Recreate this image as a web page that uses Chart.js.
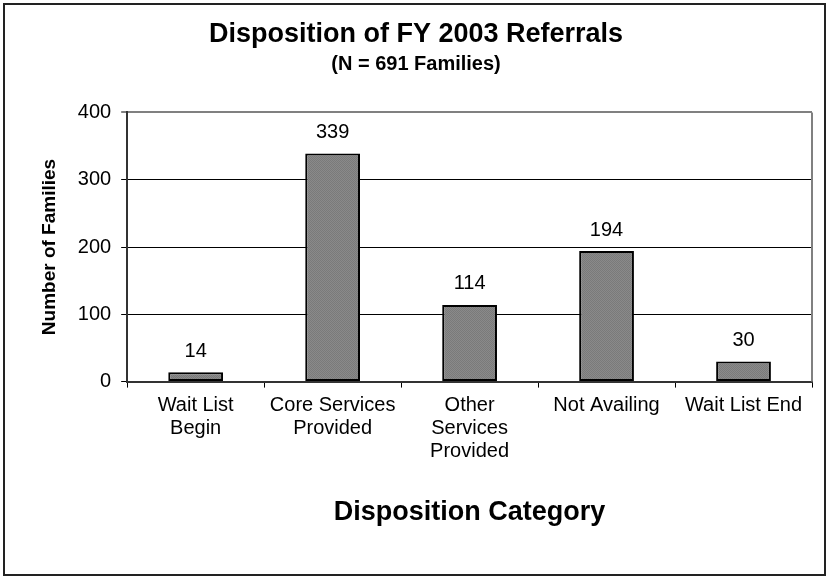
<!DOCTYPE html>
<html>
<head>
<meta charset="utf-8">
<script src="https://cdn.jsdelivr.net/npm/chart.js@4"></script>
<style>
html,body{margin:0;padding:0;background:#fff;}
canvas{display:block;}
</style>
</head>
<body>
<canvas id="c" width="826" height="576"></canvas>
<script>
const categories = [["Wait List","Begin"],["Core Services","Provided"],["Other","Services","Provided"],["Not Availing"],["Wait List End"]];
const families = [14, 339, 114, 194, 30];
const yTicks = [0, 100, 200, 300, 400];
const titleText = "Disposition of FY 2003 Referrals";
const subtitleText = "(N = 691 Families)";
const xTitle = "Disposition Category";
const yTitle = "Number of Families";

const FONT = "'Liberation Sans', Arial, sans-serif";

function makePattern(){
  const p = document.createElement('canvas');
  p.width = 2; p.height = 2;
  const g = p.getContext('2d');
  g.fillStyle = '#8a8a8a'; g.fillRect(0,0,2,2);
  g.fillStyle = '#7a7a7a'; g.fillRect(0,0,1,1); g.fillRect(1,1,1,1);
  return g.createPattern(p,'repeat');
}

const framePlugin = {
  id: 'frame',
  beforeDraw(chart){
    const c = chart.ctx;
    c.save(); c.fillStyle = '#fff'; c.fillRect(0,0,chart.width,chart.height); c.restore();
  },
  afterDraw(chart){
    const c = chart.ctx, a = chart.chartArea;
    c.save();
    c.strokeStyle = '#808080'; c.lineWidth = 2;
    c.beginPath(); c.moveTo(a.right, a.top); c.lineTo(a.right, a.bottom); c.stroke();
    c.strokeStyle = '#222'; c.lineWidth = 2;
    c.strokeRect(4, 4, chart.width - 5, chart.height - 5);
    c.restore();
  }
};

const labelPlugin = {
  id: 'barLabels',
  afterDatasetsDraw(chart){
    const c = chart.ctx;
    const meta = chart.getDatasetMeta(0);
    c.save();
    c.fillStyle = '#000';
    c.font = "20px " + FONT;
    c.textAlign = 'center'; c.textBaseline = 'middle';
    meta.data.forEach((el, i) => {
      c.fillText(String(chart.data.datasets[0].data[i]), el.x, el.y - 21);
    });
    c.restore();
  }
};

new Chart(document.getElementById('c'), {
  type: 'bar',
  data: {
    labels: categories,
    datasets: [{
      data: families,
      backgroundColor: makePattern(),
      borderColor: '#000',
      borderWidth: 2,
      borderSkipped: false,
      barPercentage: 0.4,
      categoryPercentage: 1.0
    }]
  },
  options: {
    responsive: false,
    animation: false,
    layout: { padding: { left: 20, right: 14, top: 0, bottom: 47 } },
    plugins: {
      legend: { display: false },
      tooltip: { enabled: false },
      title: { display: true, text: titleText, color: '#000',
        font: { family: FONT, size: 27, weight: 'bold' }, padding: { top: 18, bottom: 0 } },
      subtitle: { display: true, text: subtitleText, color: '#000',
        font: { family: FONT, size: 20, weight: 'bold' }, padding: { top: 2, bottom: 36 } }
    },
    scales: {
      x: {
        offset: true,
        grid: { offset: true, drawOnChartArea: false, drawTicks: true, tickLength: 6, color: '#000', lineWidth: 1 },
        border: { display: true, color: '#333', width: 2 },
        ticks: { color: '#000', font: { family: FONT, size: 20, lineHeight: 1.15 }, padding: 6, maxRotation: 0, autoSkip: false },
        title: { display: true, text: xTitle, color: '#000', font: { family: FONT, size: 27, weight: 'bold' }, padding: { top: 28, bottom: 0 } }
      },
      y: {
        min: 0, max: 400,
        afterBuildTicks(axis){ axis.ticks = yTicks.map(v => ({ value: v })); },
        grid: { color: ctx => (ctx.tick && ctx.tick.value === 400) ? '#808080' : '#000', lineWidth: ctx => (ctx.tick && ctx.tick.value === 400) ? 2 : 1, tickLength: 6, drawTicks: true },
        border: { display: true, color: '#333', width: 2 },
        ticks: { color: '#000', font: { family: FONT, size: 20 }, padding: 10 },
        title: { display: true, text: yTitle, color: '#000', font: { family: FONT, size: 19, weight: 'bold' }, padding: { top: 18, bottom: 7 } }
      }
    }
  },
  plugins: [framePlugin, labelPlugin]
});
</script>
</body>
</html>
